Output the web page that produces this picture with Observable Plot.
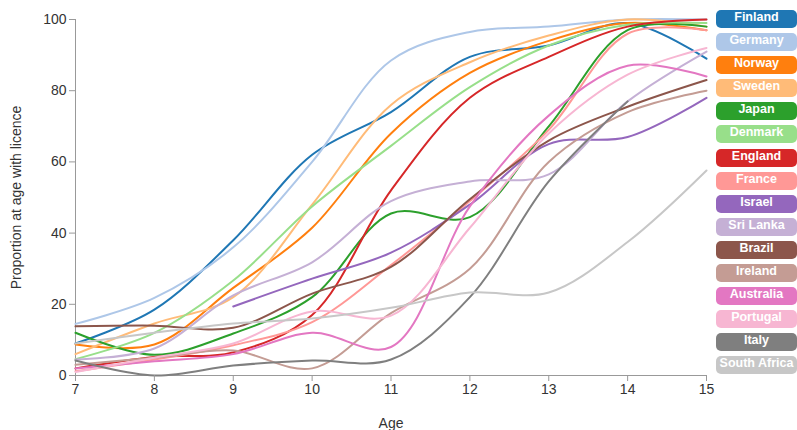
<!DOCTYPE html>
<html>
<head>
<meta charset="utf-8">
<script src="https://cdn.jsdelivr.net/npm/d3@7"></script>
<script src="https://cdn.jsdelivr.net/npm/@observablehq/plot@0.6"></script>
<style>
  body { margin: 0; background: #fff; }
  #wrap { position: relative; width: 797px; height: 430px; }
  #legend { position: absolute; left: 716px; top: 10px; }
  .item { width: 81px; height: 18px; line-height: 18px; margin-bottom: 5.1px; border-radius: 5px;
          color: #fff; text-align: center; font: bold 12.5px "Liberation Sans", Arial, sans-serif; }
</style>
</head>
<body>
<div id="wrap"><div id="chart"></div><div id="legend"></div></div>
<script>
const ages = [7, 8, 9, 10, 11, 12, 13, 14, 15];
const countries = ["Finland", "Germany", "Norway", "Sweden", "Japan", "Denmark", "England", "France",
  "Israel", "Sri Lanka", "Brazil", "Ireland", "Australia", "Portugal", "Italy", "South Africa"];
const colors = ["#1f77b4", "#aec7e8", "#ff7f0e", "#ffbb78", "#2ca02c", "#98df8a", "#d62728", "#ff9896",
  "#9467bd", "#c5b0d5", "#8c564b", "#c49c94", "#e377c2", "#f7b6d2", "#7f7f7f", "#c7c7c7"];

const finland     = [9, 18.5, 38, 62, 74, 89.5, 92.7, 99, 89];
const germany     = [14.5, 21.8, 36, 60, 88.5, 96.5, 98, 100, 100];
const norway      = [8.7, 8.7, 24.6, 41.5, 68, 85, 94, 99, 97];
const sweden      = [6, 14.6, 22, 48, 76, 88, 95.5, 100, 98];
const japan       = [12, 5.8, 11.8, 22, 45.5, 44.5, 70, 97, 98];
const denmark     = [4.6, 12, 26.7, 47.5, 64.5, 81, 92.7, 98.5, 99];
const england     = [2, 5.2, 6.5, 17, 52, 78, 89.5, 98, 100];
const france      = [1.2, 4.5, 8.5, 15, 31, 49, 69, 96, 97];
const israel      = [null, null, 19.4, 27.2, 34.5, 48, 65, 67, 78];
const sriLanka    = [4.5, 7.6, 22.5, 31.8, 49, 54.5, 56.5, 77, 91];
const brazil      = [13.8, 14, 13.4, 23, 30.5, 49.5, 66, 75.5, 83];
const ireland     = [3, 5, 7, 2, 17.5, 30, 60, 74, 80];
const australia   = [2, 4, 6, 12, 8, 47.5, 73, 87, 84];
const portugal    = [1, 5, 9, 18, 16.8, 41.5, 68, 84.5, 92];
const italy       = [4.2, 0, 2.8, 4.2, 4.5, 22, 54.5, 77, null];
const southAfrica = [9, 12, 14.6, 16, 19, 23.3, 23.3, 37.5, 57.6];

const series = [finland, germany, norway, sweden, japan, denmark, england, france,
  israel, sriLanka, brazil, ireland, australia, portugal, italy, southAfrica];

const rows = [];
series.forEach((vals, i) => vals.forEach((v, j) => {
  if (v != null) rows.push({country: countries[i], age: ages[j], value: v});
}));

const yTicks = [0, 20, 40, 60, 80, 100];
const axisColor = "#999";

const chart = Plot.plot({
  width: 797,
  height: 430,
  marginLeft: 75,
  marginRight: 91,
  marginTop: 19,
  marginBottom: 55,
  style: {fontFamily: "'Liberation Sans Narrow', 'Liberation Sans', Arial, sans-serif", fontSize: "14px", color: "#333", background: "#fff"},
  x: {domain: [7, 15]},
  y: {domain: [0, 100]},
  color: {domain: countries, range: colors},
  marks: [
    Plot.ruleX([7], {stroke: axisColor}),
    Plot.ruleY([0], {stroke: axisColor}),
    Plot.lineY(rows, {x: "age", y: "value", z: "country", stroke: "country", curve: "catmull-rom", strokeWidth: 2}),
    Plot.axisX({ticks: ages, tickSize: 6, tickPadding: 3, stroke: axisColor, label: "Age", labelAnchor: "center", labelArrow: "none", labelOffset: 52, fill: "#333"}),
    Plot.axisY({ticks: yTicks, tickSize: 6, tickPadding: 3, stroke: axisColor, label: "Proportion at age with licence", labelAnchor: "center", labelArrow: "none", labelOffset: 64, fill: "#333"})
  ]
});
document.getElementById("chart").appendChild(chart);

const legend = document.getElementById("legend");
countries.forEach((c, i) => {
  const d = document.createElement("div");
  d.className = "item";
  d.style.background = colors[i];
  d.textContent = c;
  legend.appendChild(d);
});
</script>
</body>
</html>
